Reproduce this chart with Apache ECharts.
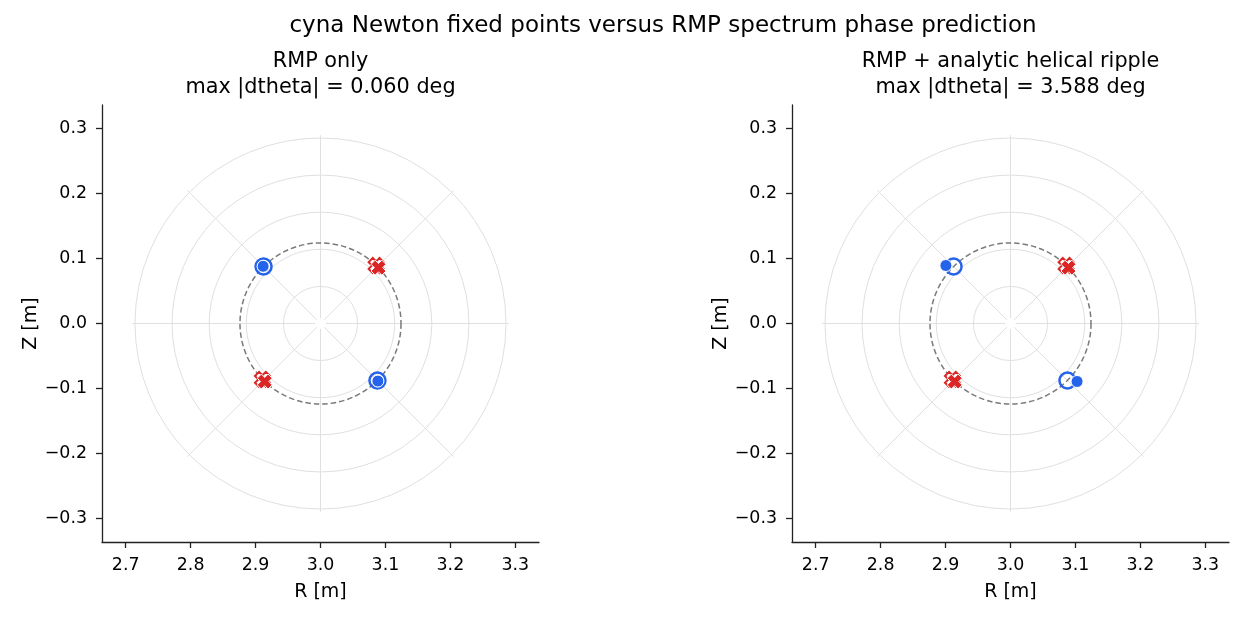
<!DOCTYPE html>
<html>
<head>
<meta charset="utf-8">
<script src="https://cdn.jsdelivr.net/npm/echarts@6/dist/echarts.min.js"></script>
<style>
  html, body { margin: 0; background: #fff; }
  #chart { width: 1244px; height: 617px; }
</style>
</head>
<body>
<div id="chart"></div>
<script>
// --- data ---
const axisCenter = [3.0, 0.0] // magnetic axis (R, Z)
const rTicks = [2.7, 2.8, 2.9, 3.0, 3.1, 3.2, 3.3]
const zTicks = [-0.3, -0.2, -0.1, 0.0, 0.1, 0.2, 0.3]
const ringRadii = [0.0571, 0.1143, 0.1714, 0.2286, 0.2857]
const spokeAngles = [0, 45, 90, 135, 180, 225, 270, 315]
const spokeInner = 0.008
const spokeOuter = 0.29
const islandRadius = 0.124 // dashed resonant surface
const suptitle = 'cyna Newton fixed points versus RMP spectrum phase prediction'
const panelTitles = [
  'RMP only\nmax |dtheta| = 0.060 deg',
  'RMP + analytic helical ripple\nmax |dtheta| = 3.588 deg'
]
// predicted O-points (open rings)
const predictedO = [
  [[2.9123, 0.0877], [3.0877, -0.0877]],
  [[2.9123, 0.0877], [3.0877, -0.0877]]
]
// Newton O-points (filled dots)
const newtonO = [
  [[2.9116, 0.0881], [3.0884, -0.0887]],
  [[2.9005, 0.0893], [3.1025, -0.0893]]
]
// predicted X-points (outlined)
const predictedX = [
  [[3.0857, 0.0893], [2.9106, -0.0861]],
  [[3.0857, 0.0893], [2.9106, -0.0861]]
]
// Newton X-points (filled)
const newtonX = [
  [[3.0893, 0.0860], [2.9141, -0.0894]],
  [[3.0893, 0.0860], [2.9141, -0.0894]]
]

const BLUE = '#2563eb'
const RED = '#dc2626'
const FONT = 'DejaVu Sans'
const xShape = 'path://M0,5.5L5.5,0L10,4.5L14.5,0L20,5.5L15.5,10L20,14.5L14.5,20L10,15.5L5.5,20L0,14.5L4.5,10Z'

const chart = echarts.init(document.getElementById('chart'), null, { renderer: 'canvas' })

const gridLefts = [102, 792]
const fmt = (v) => v.toFixed(1).replace('-', '\u2212')

function ringItem (params, api) {
  const c = api.coord([api.value(0), api.value(1)])
  const s = api.size([api.value(2), api.value(2)])
  return {
    type: 'circle',
    shape: { cx: c[0], cy: c[1], r: s[0] },
    style: { fill: 'none', stroke: '#e0e0e0', lineWidth: 1 },
    silent: true
  }
}

function dashedItem (params, api) {
  const c = api.coord([api.value(0), api.value(1)])
  const s = api.size([api.value(2), api.value(2)])
  return {
    type: 'circle',
    shape: { cx: c[0], cy: c[1], r: s[0] },
    style: { fill: 'none', stroke: '#7a7a7a', lineWidth: 1.5, lineDash: [5.5, 3] },
    silent: true
  }
}

function spokeItem (params, api) {
  const cx = api.value(0)
  const cy = api.value(1)
  const a = api.value(2) * Math.PI / 180
  const p0 = api.coord([cx + spokeInner * Math.cos(a), cy + spokeInner * Math.sin(a)])
  const p1 = api.coord([cx + spokeOuter * Math.cos(a), cy + spokeOuter * Math.sin(a)])
  return {
    type: 'line',
    shape: { x1: p0[0], y1: p0[1], x2: p1[0], y2: p1[1] },
    style: { stroke: '#e0e0e0', lineWidth: 1 },
    silent: true
  }
}

const grids = []
const xAxes = []
const yAxes = []
const titles = [{
  text: suptitle,
  left: 663,
  top: 13,
  padding: 0,
  textAlign: 'center',
  textStyle: { fontFamily: FONT, fontSize: 23, fontWeight: 'normal', color: '#000', lineHeight: 26 }
}]
const series = []

gridLefts.forEach((left, i) => {
  grids.push({ left: left, top: 105, width: 437, height: 437 })
  xAxes.push({
    gridIndex: i,
    type: 'value',
    min: 2.6635,
    max: 3.3365,
    name: 'R [m]',
    nameLocation: 'middle',
    nameGap: 41,
    nameTextStyle: { fontFamily: FONT, fontSize: 19, color: '#000' },
    axisLine: { show: true, onZero: false, lineStyle: { color: '#222', width: 1.3 } },
    axisTick: { show: true, length: 6, customValues: rTicks, lineStyle: { color: '#222', width: 1.3 } },
    axisLabel: { customValues: rTicks, formatter: fmt, margin: 15, fontFamily: FONT, fontSize: 17.4, color: '#000' },
    splitLine: { show: false }
  })
  yAxes.push({
    gridIndex: i,
    type: 'value',
    min: -0.3365,
    max: 0.3365,
    name: 'Z [m]',
    nameLocation: 'middle',
    nameGap: 51,
    nameTextStyle: { fontFamily: FONT, fontSize: 19, color: '#000' },
    axisLine: { show: true, onZero: false, lineStyle: { color: '#222', width: 1.3 } },
    axisTick: { show: true, length: 6, customValues: zTicks, lineStyle: { color: '#222', width: 1.3 } },
    axisLabel: { customValues: zTicks, formatter: fmt, margin: 15, fontFamily: FONT, fontSize: 17.4, color: '#000' },
    splitLine: { show: false }
  })
  titles.push({
    text: panelTitles[i],
    left: left + 218.5,
    top: 49,
    padding: 0,
    textAlign: 'center',
    textStyle: { fontFamily: FONT, fontSize: 20.8, fontWeight: 'normal', color: '#000', lineHeight: 26 }
  })

  series.push({
    type: 'custom',
    xAxisIndex: i,
    yAxisIndex: i,
    renderItem: ringItem,
    encode: { x: 0, y: 1 },
    clip: true,
    z: 1,
    data: ringRadii.map(r => [axisCenter[0], axisCenter[1], r])
  })
  series.push({
    type: 'custom',
    xAxisIndex: i,
    yAxisIndex: i,
    renderItem: spokeItem,
    encode: { x: 0, y: 1 },
    clip: true,
    z: 1,
    data: spokeAngles.map(a => [axisCenter[0], axisCenter[1], a])
  })
  series.push({
    type: 'custom',
    xAxisIndex: i,
    yAxisIndex: i,
    renderItem: dashedItem,
    encode: { x: 0, y: 1 },
    z: 2,
    data: [[axisCenter[0], axisCenter[1], islandRadius]]
  })
  series.push({
    name: 'predicted X',
    type: 'scatter',
    xAxisIndex: i,
    yAxisIndex: i,
    symbol: xShape,
    symbolSize: 15,
    itemStyle: { color: '#fff', borderColor: RED, borderWidth: 2, opacity: 1 },
    z: 3,
    data: predictedX[i]
  })
  series.push({
    name: 'Newton X',
    type: 'scatter',
    xAxisIndex: i,
    yAxisIndex: i,
    symbol: xShape,
    symbolSize: 15,
    itemStyle: { color: RED, borderColor: '#fff', borderWidth: 1, opacity: 1 },
    z: 4,
    data: newtonX[i]
  })
  series.push({
    name: 'predicted O',
    type: 'scatter',
    xAxisIndex: i,
    yAxisIndex: i,
    symbol: 'circle',
    symbolSize: 16,
    itemStyle: { color: 'rgba(0,0,0,0)', borderColor: BLUE, borderWidth: 2.5, opacity: 1 },
    z: 5,
    data: predictedO[i]
  })
  series.push({
    name: 'Newton O',
    type: 'scatter',
    xAxisIndex: i,
    yAxisIndex: i,
    symbol: 'circle',
    symbolSize: 12,
    itemStyle: { color: BLUE, borderColor: '#fff', borderWidth: 1, opacity: 1 },
    z: 6,
    data: newtonO[i]
  })
})

chart.setOption({
  animation: false,
  backgroundColor: '#fff',
  title: titles,
  grid: grids,
  xAxis: xAxes,
  yAxis: yAxes,
  series: series
})
</script>
</body>
</html>
